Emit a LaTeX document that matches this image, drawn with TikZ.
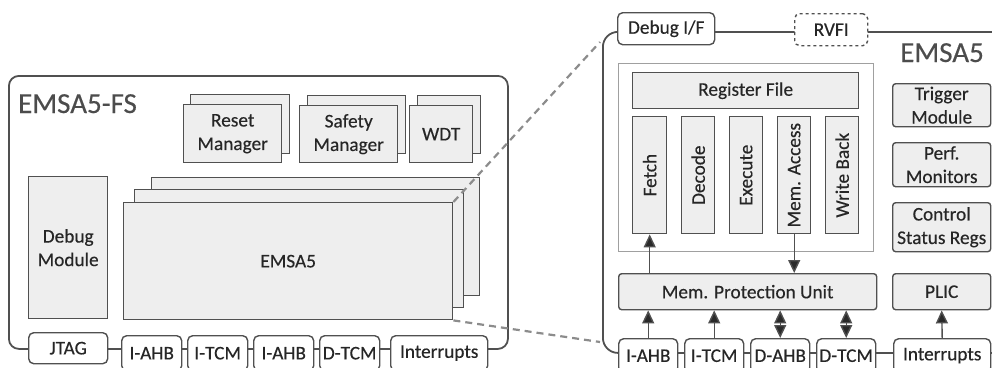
\documentclass[tikz,border=0pt]{standalone}
\usepackage{fontspec}
\setmainfont{Carlito}[FakeBold=0.35]
\usetikzlibrary{arrows.meta}
\definecolor{linec}{HTML}{505050}
\definecolor{boxf}{HTML}{EEEEEE}
\definecolor{txtc}{HTML}{262626}
\definecolor{titc}{HTML}{4C4C4C}
\definecolor{dashc}{HTML}{8C8C8C}
\definecolor{innerc}{HTML}{A0A0A0}
\definecolor{arrc}{HTML}{2A2A2A}
\newcommand\fnt{\fontsize{19.3}{23.5}\selectfont}
\newcommand\tfnt{\fontsize{29}{32}\selectfont}
\begin{document}
\begin{tikzpicture}[x=1pt,y=-1pt,
  at box/.style n args={4}{anchor=north west, at={(#1,#2)},
    minimum width={(#3-#1)*1pt}, minimum height={(#4-#2)*1pt}},
  outer/.style={draw=linec, line width=1.8pt, inner sep=0pt},
  blk/.style={draw=linec, fill=boxf, line width=1.4pt, inner sep=0pt,
    align=center, text=txtc, font=\fnt},
  rblk/.style={blk, rounded corners=3pt},
  iface/.style={draw=linec, fill=white, rounded corners=5pt, line width=1.4pt,
    inner sep=0pt, text=txtc, font=\fnt},
  vtext/.style={rotate=90, text=txtc, font=\fnt, inner sep=0pt},
  title/.style={text=titc, font=\tfnt, inner sep=0pt},
  tip/.tip={Triangle[length=13pt,width=12pt,fill=arrc]},
  arr/.style={draw=linec, line width=1.4pt, -tip},
  darr/.style={draw=linec, line width=1.4pt, tip-tip},
  zoomline/.style={draw=dashc, line width=2.2pt, dash pattern=on 7pt off 5pt}
]
\useasboundingbox (0,0) rectangle (992,367);
\clip (0,0) rectangle (992,367);

% ---------------- left: EMSA5-FS ----------------
\node[outer, rounded corners=10pt, at box={8}{75}{507}{348}] (fs) {};
\node[title, anchor=base west] (fstitle) at (18,113) {EMSA5-FS};

\node[blk, at box={190}{94}{289}{153}] (reset2) {};
\node[blk, at box={183}{104}{281}{162}] (reset) {Reset\\Manager};
\node[blk, at box={307}{95}{405}{153}] (safety2) {};
\node[blk, at box={299}{105}{397}{162}] (safety) {Safety\\Manager};
\node[blk, at box={417}{95}{480}{153}] (wdt2) {};
\node[blk, at box={409}{105}{472}{162}] (wdt) {WDT};

\node[blk, at box={28}{176}{107}{318}] (dbgmod) {Debug\\Module};

\node[blk, at box={151}{177}{479}{295}] (core3) {};
\node[blk, at box={134}{189}{463}{307}] (core2) {};
\node[blk, at box={123}{202}{452}{319}] (core1) {EMSA5};

\node[iface, at box={28}{332}{107}{363}] (jtag) {JTAG};
\node[iface, at box={121}{335}{181}{370}] (liahb) {I-AHB};
\node[iface, at box={187}{335}{247}{370}] (litcm) {I-TCM};
\node[iface, at box={253}{335}{313}{370}] (liahbb) {I-AHB};
\node[iface, at box={319}{335}{379}{370}] (ldtcm) {D-TCM};
\node[iface, at box={390}{335}{487}{370}] (lirq) {Interrupts};

% ---------------- right: EMSA5 ----------------
\node[outer, rounded corners=15pt, at box={602}{31}{1030}{352}] (emsa) {};
\node[title, anchor=base east] (emsatitle) at (984,62) {EMSA5};

\node[iface, at box={617}{12}{714}{44}] (dbgif) {Debug I/F};
\node[iface, dashed, at box={794}{13}{867}{45}] (rvfi) {RVFI};

\node[draw=innerc, line width=1.1pt, at box={618}{63}{873}{251}] (pipe) {};
\node[blk, at box={632}{72}{858}{108}] (regfile) {Register File};
\node[blk, at box={632}{116}{666}{233}] (fetch) {};
\node[vtext] (fetcht) at (fetch.center) {Fetch};
\node[blk, at box={681}{116}{714}{233}] (decode) {};
\node[vtext] (decodet) at (decode.center) {Decode};
\node[blk, at box={729}{116}{762}{233}] (execute) {};
\node[vtext] (executet) at (execute.center) {Execute};
\node[blk, at box={777}{116}{810}{233}] (memacc) {};
\node[vtext] (memacct) at (memacc.center) {Mem. Access};
\node[blk, at box={825}{116}{858}{233}] (wb) {};
\node[vtext] (wbt) at (wb.center) {Write Back};

\node[rblk, at box={892}{83}{990}{126}] (trig) {Trigger\\Module};
\node[rblk, at box={892}{142}{990}{186}] (perf) {Perf.\\Monitors};
\node[rblk, at box={892}{202}{990}{251}] (csr) {Control\\Status Regs};
\node[rblk, at box={892}{273}{990}{309}] (plic) {PLIC};
\node[rblk, at box={618}{273}{876}{309}] (mpu) {Mem. Protection Unit};

\node[iface, at box={618}{338}{677}{372}] (riahb) {I-AHB};
\node[iface, at box={684}{338}{743}{372}] (ritcm) {I-TCM};
\node[iface, at box={750}{338}{809}{372}] (rdahb) {D-AHB};
\node[iface, at box={816}{338}{875}{372}] (rdtcm) {D-TCM};
\node[iface, at box={893}{338}{990}{372}] (rirq) {Interrupts};

% arrows
\draw[arr] (fetch.south |- mpu.north) -- (fetch.south);
\draw[arr] (memacc.south) -- (memacc.south |- mpu.north);
\draw[arr] (riahb.north) -- (riahb.north |- mpu.south);
\draw[arr] (ritcm.north) -- (ritcm.north |- mpu.south);
\draw[darr] (rdahb.north) -- (rdahb.north |- mpu.south);
\draw[darr] (rdtcm.north) -- (rdtcm.north |- mpu.south);
\draw[arr] (rirq.north) -- (plic.south);

% zoom lines
\coordinate (zt) at (600,42);
\coordinate (zb) at (600,342);
\draw[zoomline] (core1.north east) -- (zt);
\draw[zoomline] (core1.south east) -- (zb);
\end{tikzpicture}
\end{document}
